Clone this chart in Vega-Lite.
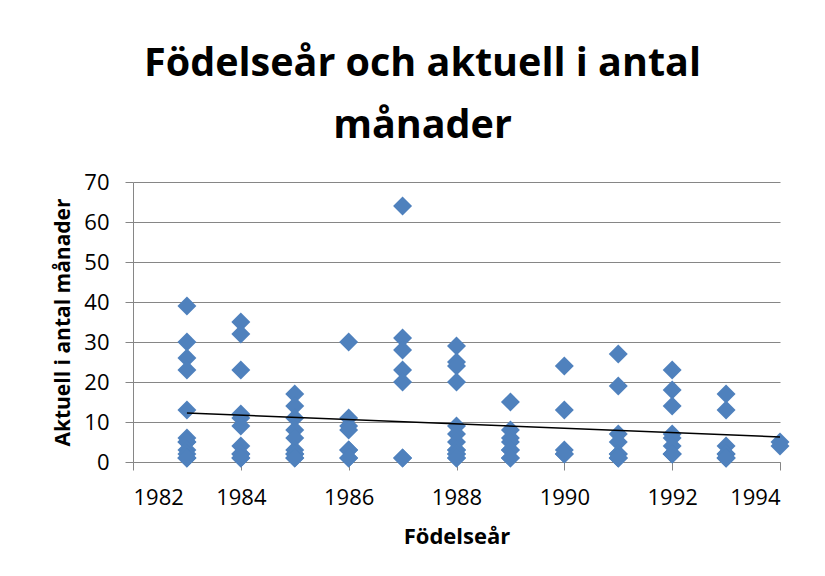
{
  "$schema": "https://vega.github.io/schema/vega-lite/v6.json",
  "width": 647,
  "height": 280,
  "autosize": {"type": "none"},
  "padding": {"left": 133, "right": 45, "top": 182, "bottom": 114},
  "background": "white",
  "title": {
    "text": ["Födelseår och aktuell i antal", "månader"],
    "font": "Open Sans",
    "fontSize": 39.5,
    "fontWeight": "bold",
    "color": "#000000",
    "lineHeight": 62,
    "anchor": "middle",
    "frame": "group",
    "dx": -34,
    "offset": 25
  },
  "config": {
    "view": {"stroke": null},
    "axis": {
      "labelFont": "Open Sans",
      "titleFont": "Open Sans",
      "labelColor": "#000000",
      "titleColor": "#000000",
      "domainColor": "#868686",
      "tickColor": "#868686",
      "gridColor": "#868686",
      "domainWidth": 1,
      "tickWidth": 1,
      "gridWidth": 1
    }
  },
  "data": {
    "values": [
      {"year": 1983, "months": 39}, {"year": 1983, "months": 30}, {"year": 1983, "months": 26}, {"year": 1983, "months": 23}, {"year": 1983, "months": 13}, {"year": 1983, "months": 6}, {"year": 1983, "months": 5}, {"year": 1983, "months": 5}, {"year": 1983, "months": 3}, {"year": 1983, "months": 2}, {"year": 1983, "months": 1}, {"year": 1983, "months": 1}, {"year": 1983, "months": 1},
      {"year": 1984, "months": 35}, {"year": 1984, "months": 32}, {"year": 1984, "months": 23}, {"year": 1984, "months": 12}, {"year": 1984, "months": 11}, {"year": 1984, "months": 9}, {"year": 1984, "months": 4}, {"year": 1984, "months": 2}, {"year": 1984, "months": 2}, {"year": 1984, "months": 1}, {"year": 1984, "months": 1},
      {"year": 1985, "months": 17}, {"year": 1985, "months": 14}, {"year": 1985, "months": 11}, {"year": 1985, "months": 8}, {"year": 1985, "months": 6}, {"year": 1985, "months": 3}, {"year": 1985, "months": 2}, {"year": 1985, "months": 2}, {"year": 1985, "months": 1}, {"year": 1985, "months": 1},
      {"year": 1986, "months": 30}, {"year": 1986, "months": 11}, {"year": 1986, "months": 9}, {"year": 1986, "months": 8}, {"year": 1986, "months": 3}, {"year": 1986, "months": 3}, {"year": 1986, "months": 1}, {"year": 1986, "months": 1},
      {"year": 1987, "months": 64}, {"year": 1987, "months": 31}, {"year": 1987, "months": 28}, {"year": 1987, "months": 23}, {"year": 1987, "months": 20}, {"year": 1987, "months": 1}, {"year": 1987, "months": 1},
      {"year": 1988, "months": 29}, {"year": 1988, "months": 25}, {"year": 1988, "months": 24}, {"year": 1988, "months": 20}, {"year": 1988, "months": 9}, {"year": 1988, "months": 7}, {"year": 1988, "months": 5}, {"year": 1988, "months": 3}, {"year": 1988, "months": 3}, {"year": 1988, "months": 2}, {"year": 1988, "months": 2}, {"year": 1988, "months": 1}, {"year": 1988, "months": 1},
      {"year": 1989, "months": 15}, {"year": 1989, "months": 8}, {"year": 1989, "months": 6}, {"year": 1989, "months": 5}, {"year": 1989, "months": 3}, {"year": 1989, "months": 3}, {"year": 1989, "months": 1}, {"year": 1989, "months": 1},
      {"year": 1990, "months": 24}, {"year": 1990, "months": 13}, {"year": 1990, "months": 3}, {"year": 1990, "months": 2}, {"year": 1990, "months": 2},
      {"year": 1991, "months": 27}, {"year": 1991, "months": 19}, {"year": 1991, "months": 7}, {"year": 1991, "months": 5}, {"year": 1991, "months": 2}, {"year": 1991, "months": 2}, {"year": 1991, "months": 1}, {"year": 1991, "months": 1}, {"year": 1991, "months": 1},
      {"year": 1992, "months": 23}, {"year": 1992, "months": 18}, {"year": 1992, "months": 14}, {"year": 1992, "months": 7}, {"year": 1992, "months": 6}, {"year": 1992, "months": 4}, {"year": 1992, "months": 2}, {"year": 1992, "months": 2}, {"year": 1992, "months": 2},
      {"year": 1993, "months": 17}, {"year": 1993, "months": 13}, {"year": 1993, "months": 4}, {"year": 1993, "months": 2}, {"year": 1993, "months": 2}, {"year": 1993, "months": 1}, {"year": 1993, "months": 1}, {"year": 1993, "months": 1},
      {"year": 1994, "months": 5}, {"year": 1994, "months": 4}
    ]
  },
  "encoding": {
    "x": {
      "field": "year",
      "type": "quantitative",
      "scale": {"domain": [1982, 1994], "nice": false, "zero": false},
      "axis": {
        "title": "Födelseår",
        "values": [1982, 1984, 1986, 1988, 1990, 1992, 1994],
        "format": "d",
        "grid": false,
        "tickSize": 8,
        "labelFontSize": 22,
        "labelPadding": 17,
        "titleFontSize": 22,
        "titleFontWeight": "bold",
        "titlePadding": 18
      }
    },
    "y": {
      "field": "months",
      "type": "quantitative",
      "scale": {"domain": [0, 70], "nice": false},
      "axis": {
        "title": "Aktuell i antal månader",
        "values": [0, 10, 20, 30, 40, 50, 60, 70],
        "grid": true,
        "tickSize": 8,
        "labelFontSize": 22,
        "labelPadding": 16,
        "titleFontSize": 21,
        "titleFontWeight": "bold",
        "titlePadding": 10
      }
    }
  },
  "layer": [
    {
      "mark": {"type": "point", "shape": "diamond", "filled": true, "size": 360, "color": "#4F81BD", "opacity": 1}
    },
    {
      "transform": [{"regression": "months", "on": "year"}],
      "mark": {"type": "line", "color": "#000000", "strokeWidth": 1.5}
    }
  ]
}
